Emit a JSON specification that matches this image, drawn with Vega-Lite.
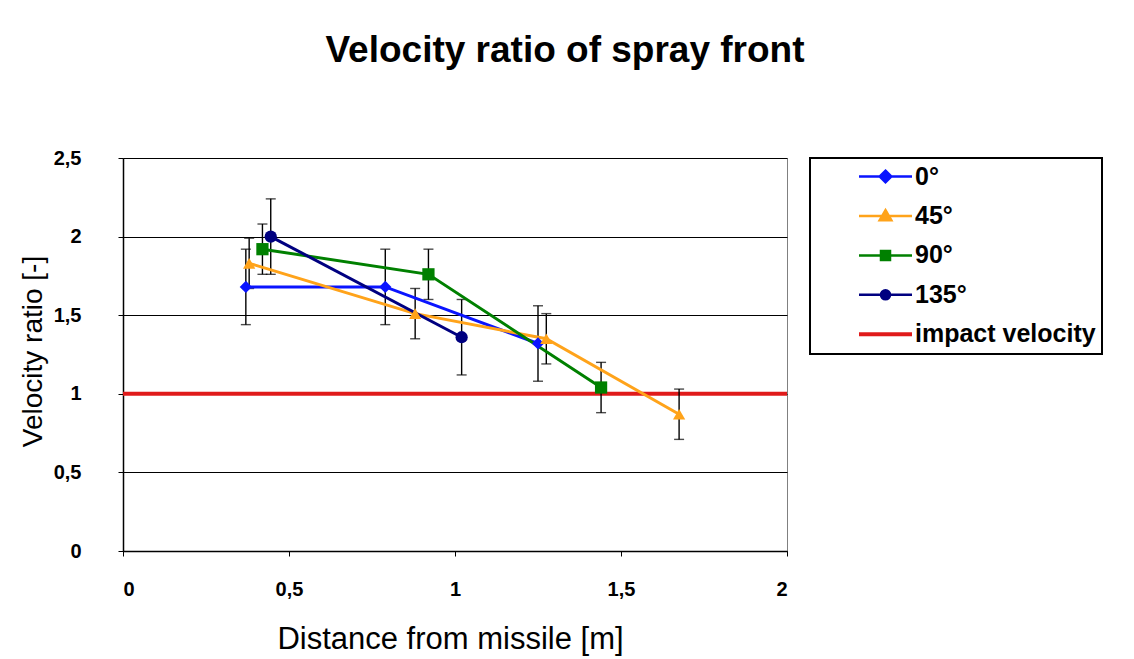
{
  "$schema": "https://vega.github.io/schema/vega-lite/v6.json",
  "width": 664,
  "height": 393,
  "autosize": {"type": "none"},
  "padding": {"left": 123, "top": 158, "right": 347, "bottom": 108},
  "background": "white",
  "title": {
    "text": "Velocity ratio of spray front",
    "font": "Liberation Sans",
    "fontSize": 37,
    "fontWeight": "bold",
    "color": "#000",
    "anchor": "middle",
    "dx": 110,
    "offset": 78
  },
  "datasets": {
    "pts": [
      {"series": "0°", "d": 0.37, "v": 1.68, "err": 0.24},
      {"series": "0°", "d": 0.79, "v": 1.68, "err": 0.24},
      {"series": "0°", "d": 1.25, "v": 1.32, "err": 0.24},
      {"series": "45°", "d": 0.38, "v": 1.83, "err": 0.16},
      {"series": "45°", "d": 0.88, "v": 1.51, "err": 0.16},
      {"series": "45°", "d": 1.275, "v": 1.35, "err": 0.16},
      {"series": "45°", "d": 1.675, "v": 0.87, "err": 0.16},
      {"series": "90°", "d": 0.42, "v": 1.92, "err": 0.16},
      {"series": "90°", "d": 0.92, "v": 1.76, "err": 0.16},
      {"series": "90°", "d": 1.44, "v": 1.04, "err": 0.16},
      {"series": "135°", "d": 0.445, "v": 2.0, "err": 0.24},
      {"series": "135°", "d": 1.02, "v": 1.36, "err": 0.24}
    ],
    "impact": [{"series": "impact velocity", "v": 1}]
  },
  "layer": [
    {
      "data": {"name": "impact"},
      "mark": {"type": "rule", "strokeWidth": 4},
      "encoding": {
        "y": {"field": "v", "type": "quantitative", "title": "Velocity ratio [-]"},
        "color": {"field": "series", "type": "nominal"}
      }
    },
    {
      "data": {"name": "pts"},
      "mark": {"type": "errorbar", "color": "#000", "thickness": 1.4, "ticks": {"size": 10, "color": "#000"}},
      "encoding": {
        "x": {"field": "d", "type": "quantitative", "title": "Distance from missile [m]"},
        "y": {"field": "v", "type": "quantitative", "title": "Velocity ratio [-]"},
        "yError": {"field": "err"}
      }
    },
    {
      "data": {"name": "pts"},
      "mark": {"type": "line", "strokeWidth": 3},
      "encoding": {
        "x": {
          "field": "d",
          "type": "quantitative",
          "title": "Distance from missile [m]",
          "scale": {"domain": [0, 2], "nice": false},
          "axis": {
            "titleFontSize": 31,
            "values": [0, 0.5, 1, 1.5, 2],
            "labelExpr": "replace(format(datum.value, '~g'), '.', ',')",
            "grid": false,
            "titleX": 327,
            "titleY": 97,
            "titleAlign": "center",
            "titleBaseline": "alphabetic",
            "labelPadding": 23
          }
        },
        "y": {
          "field": "v",
          "type": "quantitative",
          "title": "Velocity ratio [-]",
          "scale": {"domain": [0, 2.5], "nice": false},
          "axis": {
            "titleFontSize": 28,
            "values": [0, 0.5, 1, 1.5, 2, 2.5],
            "labelExpr": "replace(format(datum.value, '~g'), '.', ',')",
            "grid": true,
            "titleX": -90,
            "titleY": 193,
            "titleAlign": "center",
            "titleBaseline": "middle",
            "labelPadding": 37
          }
        },
        "color": {
          "field": "series",
          "type": "nominal",
          "scale": {
            "domain": ["0°", "45°", "90°", "135°", "impact velocity"],
            "range": ["#0a14ff", "#ffa31a", "#008000", "#000080", "#e01b1b"]
          },
          "legend": {
            "title": null,
            "orient": "none",
            "legendX": 687,
            "legendY": 0,
            "strokeColor": "#000",
            "fillColor": "#fff",
            "padding": 6,
            "symbolSize": 400,
            "symbolOffset": 57,
            "labelOffset": 17,
            "rowPadding": 13.45,
            "labelFont": "Liberation Sans",
            "labelFontSize": 25,
            "labelFontWeight": "bold",
            "labelColor": "#000",
            "labelLimit": 400,
            "encode": {
              "legend": {"update": {"strokeWidth": {"value": 2}}},
              "symbols": {
                "update": {
                  "shape": {"signal": "datum.value === '0°' ? 'M-1,0H1M0,-0.22L0.22,0L0,0.22L-0.22,0Z' : datum.value === '45°' ? 'M-1,0H1M0,-0.22L0.22,0.16L-0.22,0.16Z' : datum.value === '90°' ? 'M-1,0H1M-0.17,-0.17H0.17V0.17H-0.17Z' : datum.value === '135°' ? 'M-1,0H1M-0.17,0A0.17,0.17 0 1,0 0.17,0A0.17,0.17 0 1,0 -0.17,0Z' : 'M-1,0H1'"},
                  "size": {"value": 2809},
                  "fill": {"signal": "scale('color', datum.value)"},
                  "stroke": {"signal": "scale('color', datum.value)"},
                  "strokeWidth": {"signal": "datum.value === 'impact velocity' ? 4 : 2.5"},
                  "opacity": {"value": 1},
                  "fillOpacity": {"value": 1}
                }
              }
            }
          }
        }
      }
    },
    {
      "data": {"name": "pts"},
      "mark": {"type": "point", "filled": true, "opacity": 1, "size": 150},
      "encoding": {
        "x": {"field": "d", "type": "quantitative", "title": "Distance from missile [m]"},
        "y": {"field": "v", "type": "quantitative", "title": "Velocity ratio [-]"},
        "color": {"field": "series", "type": "nominal"},
        "shape": {
          "field": "series",
          "type": "nominal",
          "scale": {"domain": ["0°", "45°", "90°", "135°"], "range": ["diamond", "triangle-up", "square", "circle"]},
          "legend": null
        }
      }
    }
  ],
  "config": {
    "font": "Liberation Sans",
    "view": {"stroke": "#808080", "strokeWidth": 1},
    "axis": {
      "labelFont": "Liberation Sans",
      "labelFontSize": 20,
      "labelFontWeight": "bold",
      "labelColor": "#000",
      "titleFont": "Liberation Sans",
      "titleFontWeight": "normal",
      "titleColor": "#000",
      "tickSize": 5,
      "tickColor": "#000",
      "domainColor": "#000",
      "domainWidth": 1.5,
      "gridColor": "#000",
      "gridWidth": 1,
      "gridOpacity": 1
    }
  }
}
